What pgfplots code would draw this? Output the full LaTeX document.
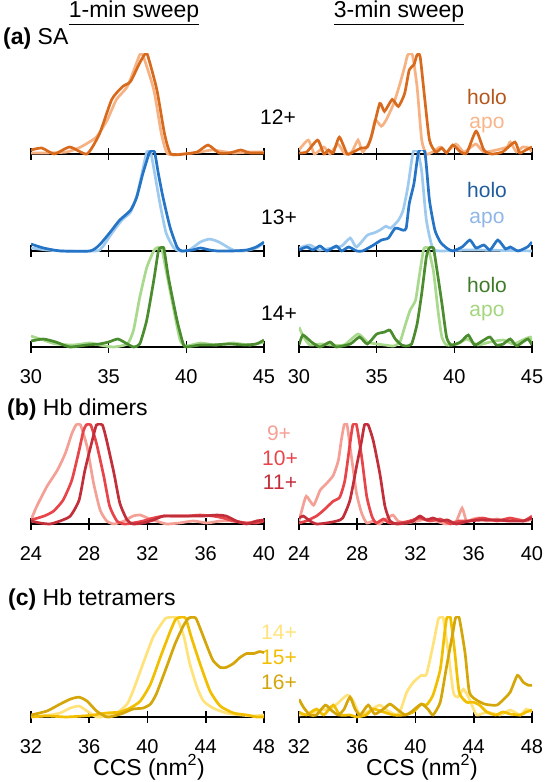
\documentclass[border=0pt]{standalone}
\usepackage{fontspec}
\setmainfont{Liberation Sans}
\usepackage{pgfplots}
\pgfplotsset{compat=1.18}
\definecolor{saH}{HTML}{D86A1E}
\definecolor{saA}{HTML}{F7B283}
\definecolor{saHt}{HTML}{B5561C}
\definecolor{saAt}{HTML}{F8B58A}
\definecolor{blH}{HTML}{2574C6}
\definecolor{blA}{HTML}{9FCAF0}
\definecolor{blHt}{HTML}{1F5C9E}
\definecolor{blAt}{HTML}{8FB6E8}
\definecolor{grH}{HTML}{4A8C2E}
\definecolor{grA}{HTML}{A8D98C}
\definecolor{grHt}{HTML}{3F7A28}
\definecolor{grAt}{HTML}{A3D67E}
\definecolor{rA}{HTML}{F5A096}
\definecolor{rB}{HTML}{E8454A}
\definecolor{rC}{HTML}{C22E3A}
\definecolor{yA}{HTML}{FFE37A}
\definecolor{yB}{HTML}{F2BE00}
\definecolor{yC}{HTML}{D4A60A}
\pgfplotsset{
  spec/.style={
    scale only axis, width=233pt, height=106pt,
    ymin=-0.06, ymax=1.01,
    axis x line=middle, axis y line=none,
    axis line style={-, line width=1.8pt, black},
    tick align=center, major tick length=12pt,
    every tick/.style={black, line width=1.6pt},
    /pgf/number format/assume math mode=true,
    ticklabel style={font=\fontsize{20}{22}\selectfont},
    xticklabel style={anchor=center, inner sep=0pt, yshift=-24pt},
    clip=true,
    every axis plot/.append style={line width=2.7pt, smooth, tension=0.35, mark=none},
  },
  rowa/.style={spec, xmin=30, xmax=45, xtick={30,35,40,45}},
  rowb/.style={spec, xmin=24, xmax=40, xtick={24,28,32,36,40}},
  rowc/.style={spec, xmin=32, xmax=48, xtick={32,36,40,44,48}},
}
\newcommand\fbig{\fontsize{23}{26}\selectfont}
\newcommand\fmid{\fontsize{21}{24}\selectfont}
\begin{document}
\begin{tikzpicture}
\useasboundingbox (0pt,0pt) rectangle (545pt,-782pt);
\tikzset{every node/.style={inner sep=0pt}}
% headers
\node[font=\fbig] at (134pt,-13pt) {\underline{1-min sweep}};
\node[font=\fbig] at (399pt,-13pt) {\underline{3-min sweep}};
\node[font=\fbig, anchor=west] at (3pt,-39pt) {\textbf{(a)} SA};
\node[font=\fbig, anchor=west] at (7pt,-410pt) {\textbf{(b)} Hb dimers};
\node[font=\fbig, anchor=west] at (8pt,-600pt) {\textbf{(c)} Hb tetramers};
% charge labels
\node[font=\fmid] at (278pt,-117pt) {12+};
\node[font=\fmid] at (279pt,-217pt) {13+};
\node[font=\fmid] at (279pt,-313pt) {14+};
\node[font=\fmid, text=saHt] at (487pt,-97pt) {holo};
\node[font=\fmid, text=saAt] at (487pt,-125pt) {apo};
\node[font=\fmid, text=blHt] at (487pt,-190pt) {holo};
\node[font=\fmid, text=blAt] at (487pt,-220pt) {apo};
\node[font=\fmid, text=grHt] at (487pt,-285pt) {holo};
\node[font=\fmid, text=grAt] at (487pt,-313pt) {apo};
\node[font=\fmid, text=rA] at (279pt,-433pt) {9+};
\node[font=\fmid, text=rB] at (280pt,-458pt) {10+};
\node[font=\fmid, text=rC] at (280pt,-482pt) {11+};
\node[font=\fmid, text=yA] at (279pt,-632pt) {14+};
\node[font=\fmid, text=yB] at (279pt,-657pt) {15+};
\node[font=\fmid, text=yC] at (279pt,-682pt) {16+};
\node[font=\fbig, anchor=base] at (149pt,-775pt) {CCS (nm\textsuperscript{2})};
\node[font=\fbig, anchor=base] at (422pt,-775pt) {CCS (nm\textsuperscript{2})};

% ===== (a) row 1 left
\begin{axis}[rowa, at={(31pt,-159.9pt)}, anchor=south west, xticklabels={}]
\addplot[saA] coordinates {(30,0.01) (31,0.01) (32.3,0.02) (33.2,0.07) (34.2,0.17) (34.9,0.34) (35.5,0.55) (36.2,0.68) (36.8,0.92) (37.0,1.0) (37.2,1.0) (37.9,0.65) (38.4,0.2) (38.8,0) (39.8,0) (40.9,0.02) (41.7,0.04) (43,0.01) (44.1,0.02) (45,0.02)};
\addplot[saH] coordinates {(30,0.04) (30.7,0.06) (31.5,0) (32.5,0.07) (33.6,0) (34.4,0.2) (35.2,0.55) (35.9,0.68) (36.4,0.73) (37.0,0.92) (37.3,1.0) (37.5,1.0) (38.1,0.65) (38.6,0.2) (39.0,0) (39.9,0) (40.7,0.02) (41.4,0.09) (42.1,0.01) (42.8,0.01) (43.5,0.04) (44.1,0.01) (45,0.01)};
\end{axis}
% ===== (a) row 1 right
\begin{axis}[rowa, at={(299pt,-159.9pt)}, anchor=south west, xticklabels={}]
\addplot[saA] coordinates {(30,0.04) (30.6,0.14) (31.0,0) (31.6,0.07) (32.0,0) (32.5,0.1) (32.95,0) (33.4,0.02) (33.8,0.14) (34.1,0.02) (34.6,0.14) (34.9,0.34) (35.3,0.28) (35.6,0.34) (36.1,0.51) (36.5,0.71) (36.8,0.88) (37.0,1.0) (37.3,1.0) (37.6,0.68) (37.9,0.14) (38.2,0) (38.6,0.02) (39.1,0.07) (39.5,0.02) (40.1,0.1) (40.6,0.02) (41.0,0.06) (41.4,0.1) (41.9,0.02) (42.7,0.04) (43.4,0.07) (43.6,0.12) (44.0,0.02) (44.4,0.07) (44.8,0.06) (45,0.02)};
\addplot[saH] coordinates {(30,0.01) (30.5,0.02) (31.2,0.14) (31.6,0) (31.9,0.04) (32.2,0.01) (32.6,0.17) (33.1,0) (33.5,0.02) (34.0,0.06) (34.4,0.07) (34.7,0.2) (35.2,0.51) (35.5,0.43) (36.0,0.55) (36.4,0.48) (36.8,0.61) (37.1,0.85) (37.4,0.9) (37.6,1.0) (37.8,0.98) (38.1,0.55) (38.4,0.14) (38.8,0.02) (39.2,0.06) (39.5,0.01) (39.9,0.09) (40.4,0.02) (40.8,0.01) (41.4,0.23) (41.9,0.04) (42.4,0) (43.1,0.02) (43.9,0.12) (44.2,0.01) (44.6,0.04) (45,0.07)};
\end{axis}
% ===== (a) row 2 left
\begin{axis}[rowa, at={(31pt,-256.9pt)}, anchor=south west, xticklabels={}]
\addplot[blA] coordinates {(30,0.03) (31,0.01) (32,0) (34.2,0) (34.6,0.04) (35.3,0.2) (35.9,0.32) (36.4,0.39) (36.8,0.55) (37.1,0.75) (37.45,1.0) (37.7,1.0) (38.0,0.75) (38.3,0.48) (38.7,0.18) (39.2,0.03) (39.6,0) (40.2,0.01) (40.9,0.09) (41.5,0.12) (42.1,0.09) (43.0,0.01) (43.7,0) (44.5,0.03) (45,0.08)};
\addplot[blH] coordinates {(30,0.07) (30.8,0.03) (31.9,0) (33.8,0) (34.4,0.06) (35.1,0.19) (35.7,0.31) (36.4,0.41) (36.8,0.54) (37.2,0.78) (37.65,1.0) (37.95,1.0) (38.2,0.78) (38.5,0.54) (38.95,0.24) (39.4,0.04) (39.7,0) (40.4,0.01) (40.9,0.03) (41.5,0.01) (42,0) (43,0) (43.9,0.01) (44.5,0.04) (45,0.09)};
\end{axis}
% ===== (a) row 2 right
\begin{axis}[rowa, at={(299pt,-256.9pt)}, anchor=south west, xticklabels={}]
\addplot[blA] coordinates {(30,0.03) (30.7,0.06) (31.3,0.01) (32.1,0.03) (32.75,0.05) (33.3,0.13) (33.7,0.04) (34.4,0.16) (34.8,0.18) (35.2,0.21) (35.6,0.25) (35.9,0.23) (36.4,0.31) (36.7,0.41) (37.0,0.64) (37.35,1.0) (37.65,1.0) (37.9,0.8) (38.2,0.31) (38.6,0.03) (39.1,0) (41,0.01) (45,0)};
\addplot[blH] coordinates {(30,0.01) (30.5,0.04) (30.9,0.01) (31.35,0.05) (31.8,0) (32.4,0.05) (32.75,0) (33.2,0.04) (33.7,0) (34.1,0) (34.8,0.06) (35.3,0.11) (35.75,0.13) (36.2,0.23) (36.7,0.21) (36.9,0.23) (37.1,0.48) (37.4,0.68) (37.7,1.0) (38.1,1.0) (38.4,0.51) (38.75,0.21) (39.1,0.09) (39.5,0.03) (39.9,0) (40.5,0.04) (41.0,0.11) (41.4,0.03) (41.9,0.06) (42.3,0.01) (42.8,0.11) (43.3,0.02) (43.6,0.04) (44.1,0) (44.7,0.04) (45,0.09)};
\end{axis}
% ===== (a) row 3 left
\begin{axis}[rowa, at={(31pt,-352.9pt)}, anchor=south west]
\addplot[grA] coordinates {(30,0.11) (30.8,0.07) (31.6,0.03) (32.7,0.02) (33.8,0.04) (34.4,0.02) (35.3,0) (36.2,0.03) (36.6,0.17) (37.0,0.5) (37.45,0.8) (37.9,0.97) (38.1,1.0) (38.4,1.0) (38.7,0.77) (39.2,0.37) (39.6,0.07) (40.0,0.01) (40.9,0.04) (41.9,0.02) (43.0,0.04) (44.1,0.02) (45,0.05)};
\addplot[grH] coordinates {(30,0.06) (30.8,0.08) (31.6,0.05) (32.5,0) (33.6,0.02) (34.4,0.03) (35.0,0.05) (35.6,0.08) (36.2,0.03) (36.6,0) (37.0,0.03) (37.45,0.27) (37.9,0.67) (38.2,0.97) (38.35,1.0) (38.55,1.0) (38.85,0.7) (39.4,0.27) (39.8,0.03) (40.0,0) (40.9,0.02) (41.7,0.02) (42.8,0.03) (43.7,0.02) (44.5,0.03) (45,0.07)};
\end{axis}
% ===== (a) row 3 right
\begin{axis}[rowa, at={(299pt,-352.9pt)}, anchor=south west]
\addplot[grA] coordinates {(30,0.2) (30.3,0.1) (30.7,0.02) (31.4,0.03) (32.0,0.02) (32.9,0.02) (33.8,0.13) (34.4,0.05) (35.0,0.03) (35.5,0.02) (36.1,0.01) (36.5,0.05) (36.8,0.2) (37.15,0.37) (37.5,0.47) (37.7,0.67) (38.0,0.97) (38.1,1.0) (38.3,1.0) (38.65,0.77) (38.97,0.34) (39.2,0.1) (39.5,0.02) (40.2,0.03) (40.8,0.08) (41.5,0.02) (42.3,0.05) (43.15,0.07) (43.8,0.03) (44.4,0.07) (44.9,0.1) (45,0.04)};
\addplot[grH] coordinates {(30,0.02) (30.25,0.12) (30.8,0.05) (31.35,0) (32.0,0.05) (32.4,0) (33.3,0.03) (33.9,0.1) (34.4,0.03) (35.0,0.13) (35.5,0.15) (35.85,0.17) (36.2,0.08) (36.6,0.02) (36.9,0.01) (37.25,0.03) (37.6,0.23) (37.9,0.54) (38.2,0.91) (38.4,1.0) (38.65,1.0) (38.86,0.8) (39.2,0.44) (39.5,0.1) (39.8,0.02) (40.4,0.05) (40.9,0.12) (41.3,0.02) (41.9,0.07) (42.3,0.1) (42.7,0.02) (43.15,0.03) (43.6,0.08) (44.0,0.01) (44.4,0.05) (44.75,0.08) (45,0.02)};
\end{axis}
% ===== (b) left
\begin{axis}[rowb, at={(31pt,-529.9pt)}, anchor=south west]
\addplot[rA] coordinates {(24,0.04) (24.4,0.18) (25.1,0.38) (25.8,0.54) (26.35,0.71) (26.8,0.91) (27.1,1.0) (27.4,1.0) (27.85,0.78) (28.3,0.41) (28.75,0.14) (29.2,0.03) (29.7,0) (30.4,0.03) (31.0,0.08) (31.5,0.09) (32.0,0.06) (32.6,0.03) (33.3,0) (34.2,0.01) (35.15,0.03) (36.1,0.01) (37.0,0.03) (37.9,0.03) (38.8,0.01) (39.5,0.03) (40,0.04)};
\addplot[rB] coordinates {(24,0.04) (24.9,0.08) (25.55,0.13) (26.2,0.24) (26.8,0.44) (27.3,0.74) (27.6,0.94) (27.8,1.0) (28.1,1.0) (28.5,0.81) (29.0,0.48) (29.4,0.18) (29.9,0.03) (30.4,0) (31.0,0.01) (31.7,0.03) (32.4,0.06) (33.1,0.08) (33.8,0.08) (34.7,0.08) (35.6,0.09) (36.5,0.08) (37.2,0.06) (37.9,0.03) (38.8,0.01) (39.5,0.01) (40,0.03)};
\addplot[rC] coordinates {(24,0.03) (24.6,0.01) (25.3,0) (26.0,0.03) (26.7,0.08) (27.3,0.24) (27.7,0.54) (28.2,0.84) (28.5,1.0) (28.9,1.0) (29.2,0.84) (29.7,0.51) (30.1,0.21) (30.6,0.04) (31.0,0) (31.7,0.01) (32.4,0.04) (33.1,0.08) (34.0,0.08) (34.9,0.08) (35.8,0.08) (36.75,0.09) (37.4,0.08) (38.1,0.03) (38.8,0) (39.5,0.03) (40,0.04)};
\end{axis}
% ===== (b) right
\begin{axis}[rowb, at={(299pt,-529.9pt)}, anchor=south west]
\addplot[rA] coordinates {(24,0.03) (24.2,0.14) (24.5,0.28) (25.0,0.19) (25.45,0.34) (25.9,0.41) (26.35,0.49) (26.7,0.64) (26.9,0.84) (27.1,1.0) (27.3,1.0) (27.6,0.68) (27.95,0.31) (28.3,0.11) (28.65,0.01) (29.1,0.03) (29.5,0) (30.0,0.05) (30.45,0.09) (30.8,0.03) (31.4,0.01) (32.1,0.03) (32.8,0.05) (33.4,0.03) (34.1,0) (34.8,0.03) (35.2,0.16) (35.5,0.03) (35.95,0.05) (36.4,0.06) (36.9,0.03) (37.6,0.05) (38.3,0.03) (38.9,0.05) (39.6,0.03) (40,0.05)};
\addplot[rB] coordinates {(24,0.01) (24.5,0.03) (25.2,0.08) (25.7,0.14) (26.35,0.23) (26.8,0.27) (27.15,0.44) (27.5,0.81) (27.7,1.0) (27.95,1.0) (28.3,0.68) (28.65,0.28) (29.0,0.08) (29.3,0.01) (29.8,0.05) (30.2,0.01) (30.9,0.01) (31.6,0.03) (32.3,0.06) (33.0,0.03) (33.7,0.05) (34.4,0) (35.0,0.03) (35.7,0.03) (36.6,0.06) (37.6,0.03) (38.5,0.06) (39.4,0.03) (40,0.08)};
\addplot[rC] coordinates {(24,0.06) (24.3,0.08) (24.75,0.03) (25.2,0) (25.9,0.01) (26.6,0.03) (27.0,0.06) (27.5,0.24) (27.95,0.58) (28.3,0.84) (28.5,1.0) (28.75,1.0) (29.1,0.84) (29.55,0.51) (29.9,0.18) (30.25,0.03) (30.7,0) (31.4,0.01) (31.85,0.03) (32.3,0.08) (32.75,0.04) (33.2,0.06) (33.7,0.03) (34.2,0.04) (34.8,0) (35.7,0.03) (36.6,0.04) (37.6,0.04) (38.5,0.03) (39.4,0.03) (40,0.06)};
\end{axis}
% ===== (c) left
\begin{axis}[rowc, at={(31pt,-722.9pt)}, anchor=south west]
\addplot[yA] coordinates {(32,0) (33.3,0.02) (34.0,0.04) (34.7,0.09) (35.3,0.11) (35.85,0.06) (36.5,0) (37.2,0.01) (37.9,0.04) (38.6,0.13) (39.0,0.26) (39.7,0.54) (40.4,0.81) (41.1,0.97) (41.3,1.0) (42.0,1.0) (42.5,0.81) (42.9,0.54) (43.4,0.3) (43.85,0.16) (44.5,0.09) (45.4,0.04) (46.4,0.02) (47.3,0.01) (48,0.02)};
\addplot[yB] coordinates {(32,0) (33.1,0.01) (34.4,0) (35.6,0.01) (36.3,0.02) (37.2,0.04) (38.1,0.05) (38.8,0.09) (39.5,0.16) (40.2,0.33) (40.9,0.61) (41.55,0.86) (41.9,0.98) (42.05,1.0) (42.6,1.0) (43.0,0.81) (43.6,0.54) (44.3,0.26) (45.0,0.11) (45.9,0.04) (46.8,0.02) (47.5,0) (48,0)};
\addplot[yC] coordinates {(32,0.02) (33.1,0.06) (34.0,0.13) (34.7,0.18) (35.3,0.2) (35.85,0.16) (36.5,0.06) (37.2,0) (37.7,0.01) (38.35,0.04) (39.0,0.08) (39.7,0.09) (40.2,0.13) (40.6,0.23) (41.3,0.5) (41.9,0.74) (42.5,0.93) (42.85,1.0) (43.3,1.0) (43.6,0.9) (44.1,0.71) (44.5,0.57) (45.0,0.5) (45.4,0.5) (45.9,0.54) (46.35,0.6) (46.8,0.64) (47.3,0.64) (47.7,0.66) (48,0.65)};
\end{axis}
% ===== (c) right
\begin{axis}[rowc, at={(299pt,-722.9pt)}, anchor=south west]
\addplot[yA] coordinates {(32,0.02) (32.75,0.03) (33.4,0.07) (34.1,0.08) (34.6,0.13) (35.3,0.22) (35.7,0.17) (36.2,0.02) (36.9,0.07) (37.55,0.12) (38.0,0.07) (38.7,0.02) (39.0,0.08) (39.4,0.25) (39.85,0.35) (40.4,0.42) (40.75,0.43) (41.2,0.72) (41.55,0.98) (41.65,1.0) (41.9,1.0) (42.25,0.65) (42.6,0.25) (42.9,0.2) (43.3,0.28) (43.7,0.18) (44.2,0.02) (44.9,0.05) (45.8,0.02) (46.5,0.07) (47.2,0.02) (47.6,0.08) (48,0.05)};
\addplot[yB] coordinates {(32,0.05) (32.5,0.02) (33.2,0.08) (33.7,0.02) (34.35,0.12) (34.8,0.02) (35.5,0.02) (35.95,0) (36.6,0.02) (37.1,0.08) (37.8,0.05) (38.5,0.02) (39.2,0.02) (39.85,0.05) (40.4,0.13) (40.75,0.12) (41.2,0.22) (41.7,0.48) (42.0,0.85) (42.15,1.0) (42.4,1.0) (42.7,0.65) (43.0,0.25) (43.5,0.15) (43.95,0.15) (44.4,0.12) (44.9,0.05) (45.5,0.02) (46.0,0.05) (46.5,0.03) (47.2,0.02) (47.6,0.05) (48,0.07)};
\addplot[yC] coordinates {(32,0.18) (32.3,0.1) (32.75,0.02) (33.2,0.02) (33.8,0.12) (34.2,0.07) (34.7,0.02) (35.1,0.08) (35.5,0.2) (35.85,0.08) (36.2,0.02) (36.75,0.12) (37.2,0.03) (37.8,0.08) (38.25,0.13) (38.8,0.07) (39.3,0.02) (39.7,0.05) (40.4,0.13) (40.85,0.08) (41.2,0.02) (41.7,0.15) (42.1,0.48) (42.6,0.88) (42.75,1.0) (43.0,1.0) (43.4,0.65) (43.7,0.25) (44.2,0.17) (44.75,0.13) (45.2,0.12) (45.6,0.12) (46.0,0.17) (46.5,0.25) (47.0,0.42) (47.4,0.35) (47.75,0.32) (48,0.32)};
\end{axis}
\end{tikzpicture}
\end{document}
